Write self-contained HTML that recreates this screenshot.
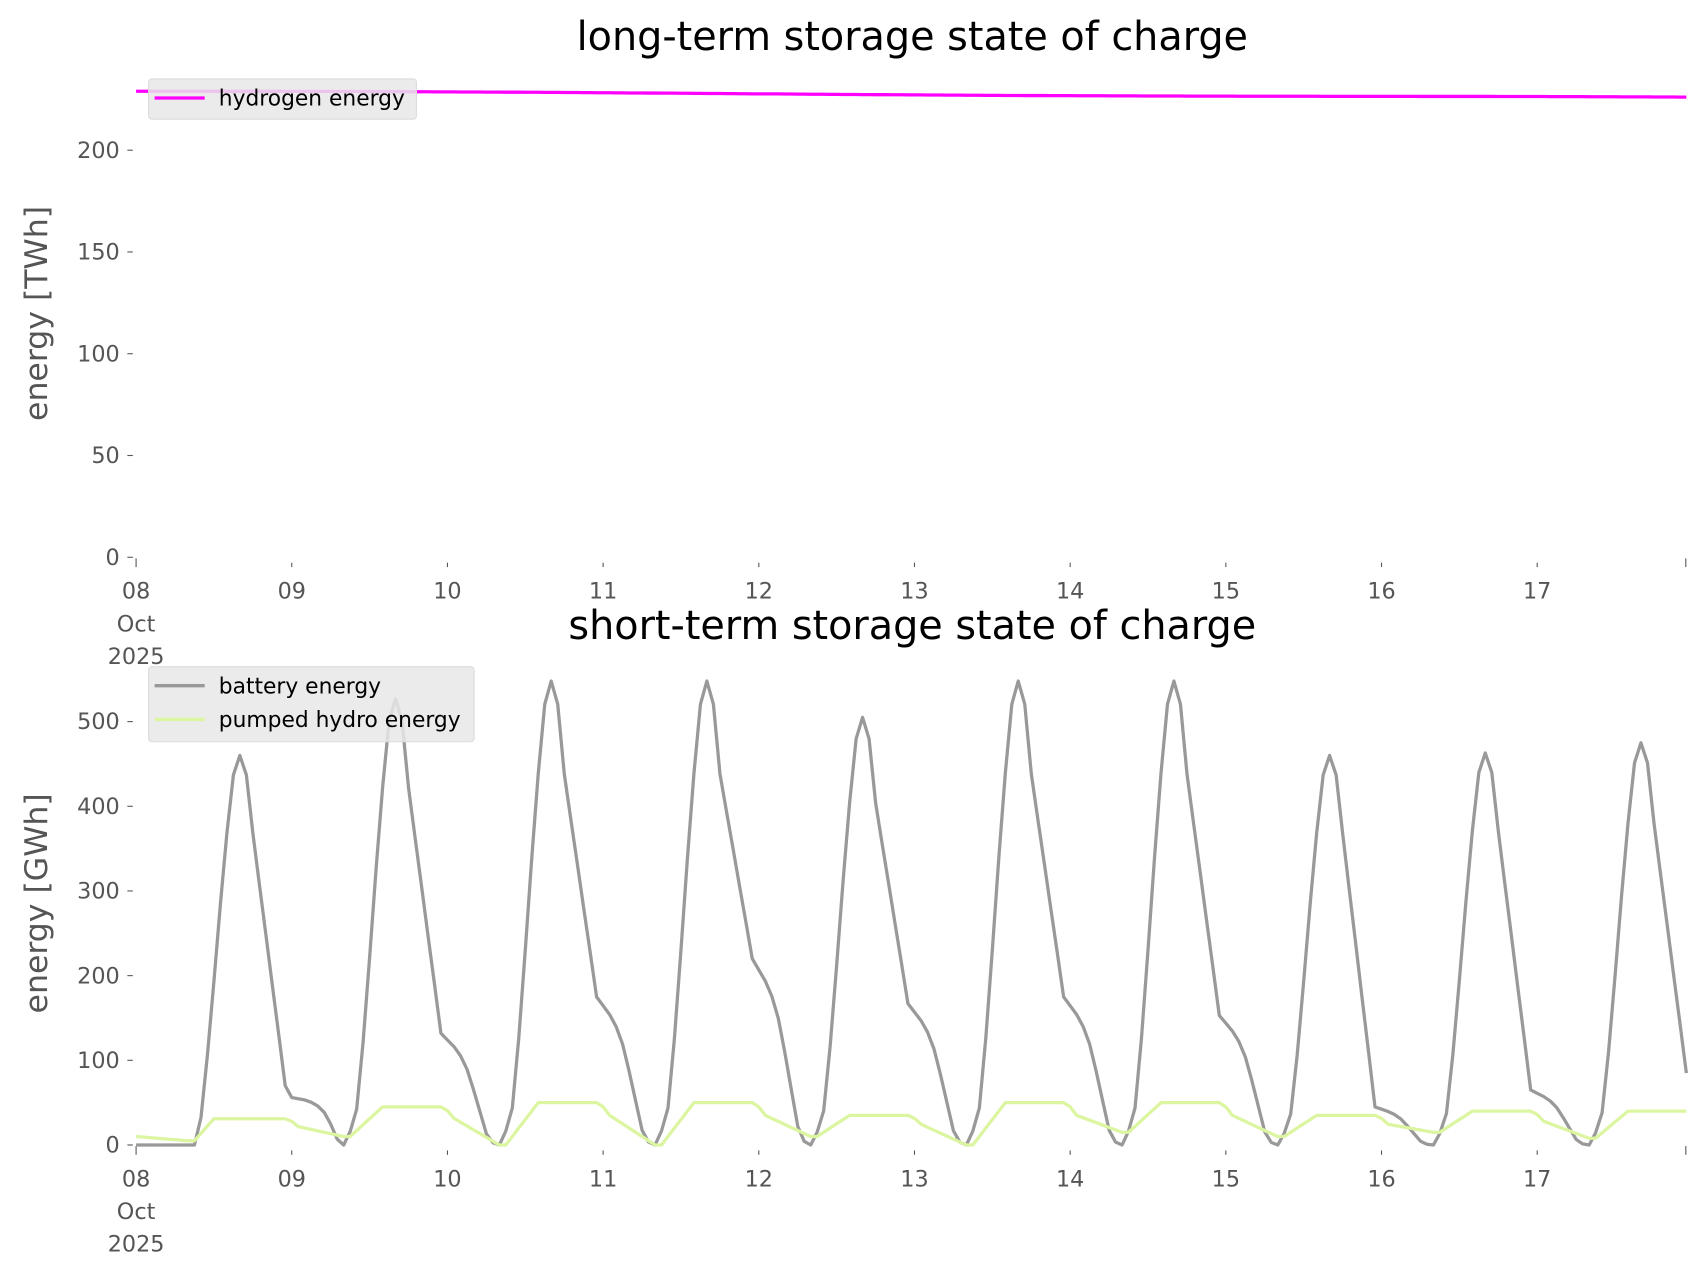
<!DOCTYPE html>
<html><head><meta charset="utf-8"><style>
html,body{margin:0;padding:0;background:#fff;}
svg{display:block;}
text{font-family:"DejaVu Sans","Liberation Sans",sans-serif;}
</style></head><body>
<svg id="s" width="1706" height="1277" viewBox="0 0 1560 1168" preserveAspectRatio="none" xmlns="http://www.w3.org/2000/svg">
<rect width="1560" height="1168" fill="#fff"/>
<g transform="scale(0.9955)">
<text x="838" y="46" font-size="36.5" text-anchor="middle" fill="#000">long-term storage state of charge</text>
<text x="838" y="587" font-size="36.5" text-anchor="middle" fill="#000">short-term storage state of charge</text>
<g id="gtop"></g>
<g id="gbot"></g>
<text transform="translate(43,288) rotate(-90)" font-size="29" text-anchor="middle" fill="#555">energy [TWh]</text>
<text transform="translate(43,830) rotate(-90)" font-size="29" text-anchor="middle" fill="#555">energy [GWh]</text>
</g>
</svg>
<script>
(function(){
var NS="http://www.w3.org/2000/svg";
function el(p,t,a,txt){var e=document.createElementNS(NS,t);for(var k in a)e.setAttribute(k,a[k]);if(txt!==undefined)e.textContent=txt;p.appendChild(e);return e;}
function X(t){return 125+t*143/24;}
var gt=document.getElementById('gtop'),gb=document.getElementById('gbot');
function pad(n){return (n<10?'0':'')+n;}
function axes(g,y0,yticks,yfn){
  yticks.forEach(function(v){var y=yfn(v);el(g,'line',{x1:117,x2:122,y1:y,y2:y,stroke:'#555','stroke-width':1});
    el(g,'text',{x:110,y:y+7,'font-size':20.5,'text-anchor':'end',fill:'#555'},String(v));});
  for(var d=0;d<=10;d++){var x=d==10?1548.5:125+143*d;el(g,'line',{x1:x,x2:x,y1:y0+(d==0||d==10?1:5),y2:y0+9,stroke:'#555','stroke-width':1});
    if(d<10){el(g,'text',{x:x,y:y0+38,'font-size':20.5,'text-anchor':'middle',fill:'#555'},pad(8+d));}}
  el(g,'text',{x:125,y:y0+68,'font-size':20.5,'text-anchor':'middle',fill:'#555'},'Oct');
  el(g,'text',{x:125,y:y0+98,'font-size':20.5,'text-anchor':'middle',fill:'#555'},'2025');
}
var yT=function(v){return 512-v*1.87;};
var yB=function(v){return 1052-v*0.778;};
axes(gt,512,[0,50,100,150,200],yT);
axes(gb,1052,[0,100,200,300,400,500],yB);
var hp=[];for(var t=0;t<=239;t++){var v=229-3.2*t/239+0.3*Math.sin(t/30);hp.push(X(t).toFixed(1)+','+yT(v).toFixed(1));}
el(gt,'polyline',{points:hp.join(' '),fill:'none',stroke:'#ff00ff','stroke-width':3});
var P=[460,527,548,548,505,548,548,460,463,475],K=[70,132,175,220,167,175,153,45,65,85];
var rise={9:0.03,10:0.08,11:0.23,12:0.42,13:0.62,14:0.8,15:0.95,16:1,17:0.95,18:0.8};
var dec=[1,.94,.88,.8,.68,.5,.3,.1,0.02];
var bp=[];
for(var t=0;t<=239;t++){var d=Math.floor(t/24),h=t%24,v;
  if(h>=9&&h<=18) v=rise[h]*P[d];
  else if(h>18) v=0.8*P[d]+(K[d]-0.8*P[d])*(h-18)/5;
  else if(h==8) v=0;
  else { if(d==0) v=0; else if(d==1){var m=[.8,.78,.76,.72,.66,.55,.35,.1];v=K[0]*m[h];} else v=K[d-1]*dec[h+1]; }
  if(t<=9) v=0; if(t==10) v=0.07*P[0];
  bp.push(X(t).toFixed(1)+','+yB(v).toFixed(1));}
el(gb,'polyline',{points:bp.join(' '),fill:'none',stroke:'#999','stroke-width':3,'stroke-linejoin':'round'});
var H=[31,45,50,50,35,50,50,35,40,40],T=[5,10,0,0,10,0,15,10,15,8];var pv=[];
for(var t=0;t<=239;t++){var d=Math.floor(t/24),h=t%24,v;
  var prev=d>0?H[d-1]:12, hs=d==0?12:14;
  if(h<=8){ if(d==0) v=10-5*h/8; else if(h==0) v=prev*0.9; else v=prev*0.7+(T[d]-prev*0.7)*(h-1)/7;}
  else if(h<=9) v=T[d];
  else if(h<=hs){v=T[d]+(H[d]-T[d])*(h-9)/(hs-9);}
  else v=H[d];
  pv.push(X(t).toFixed(1)+','+yB(v).toFixed(1));}
el(gb,'polyline',{points:pv.join(' '),fill:'none',stroke:'#dcf5a0','stroke-width':3,'stroke-linejoin':'round'});
el(gt,'rect',{x:136.5,y:72.5,width:246,height:37,rx:3,fill:'#e8e8e8','fill-opacity':0.85,stroke:'#dcdcdc'});
el(gt,'line',{x1:142,x2:188,y1:90,y2:90,stroke:'#ff00ff','stroke-width':3});
el(gt,'text',{x:201,y:97,'font-size':20,fill:'#000'},'hydrogen energy');
el(gb,'rect',{x:136.5,y:612.5,width:299,height:69,rx:3,fill:'#e8e8e8','fill-opacity':0.85,stroke:'#dcdcdc'});
el(gb,'line',{x1:142,x2:188,y1:630,y2:630,stroke:'#999','stroke-width':3});
el(gb,'text',{x:201,y:637,'font-size':20,fill:'#000'},'battery energy');
el(gb,'line',{x1:142,x2:188,y1:661,y2:661,stroke:'#dcf5a0','stroke-width':3});
el(gb,'text',{x:201,y:668,'font-size':20,fill:'#000'},'pumped hydro energy');
})();
</script>
</body></html>
